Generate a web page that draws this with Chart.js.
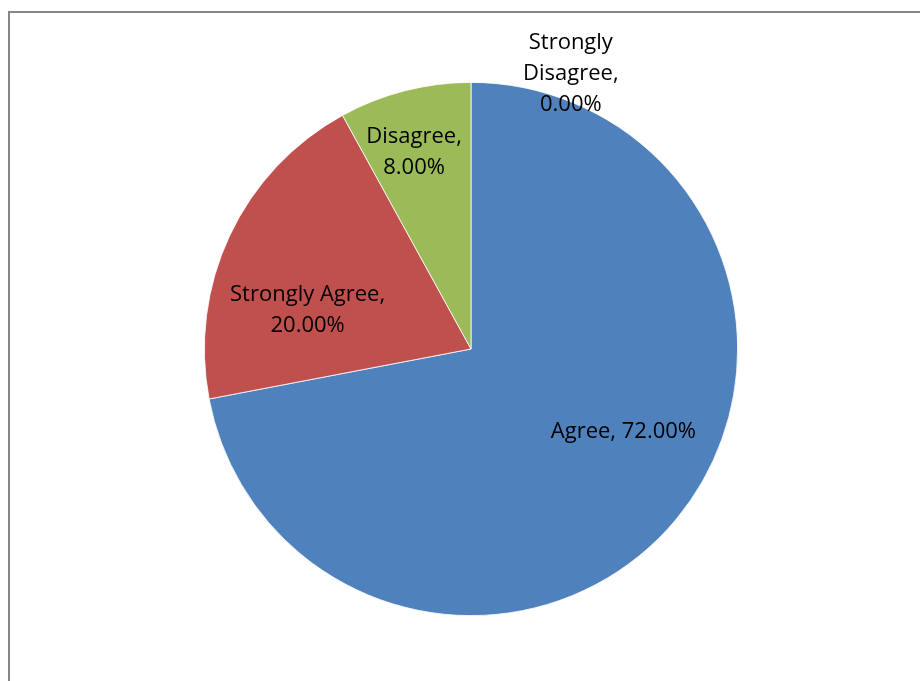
<!DOCTYPE html>
<html>
<head>
<meta charset="utf-8">
<script src="https://cdn.jsdelivr.net/npm/chart.js@4"></script>
<style>
    html, body { margin: 0; padding: 0; background: #fff; overflow: hidden; }
    #wrap { width: 920px; height: 681px; position: relative; }
</style>
</head>
<body>
<div id="wrap"><canvas id="pie" width="920" height="681"></canvas></div>
<script>
// Datos
const categories = ['Agree', 'Strongly Agree', 'Disagree', 'Strongly Disagree'];
const percents = [72, 20, 8, 0];
const sliceColors = ['#4F81BD', '#C0504D', '#9BBB59', '#8064A2'];

// Colocación de etiquetas: [ángulo en grados desde arriba, fracción del radio]
const labelPlacement = [[118.4, 0.65], [283.4, 0.63], [343.9, 0.77], [19.9, 1.10]];
// Cortes de línea como en el original
const labelLines = [
    (c, p) => [c + ', ' + p],
    (c, p) => [c + ',', p],
    (c, p) => [c + ',', p],
    (c, p) => ['Strongly', 'Disagree,', p]
];

const frame = {
    id: 'frame',
    beforeDraw(chart) {
        const ctx = chart.ctx;
        ctx.save();
        ctx.fillStyle = '#fff';
        ctx.fillRect(0, 0, chart.width, chart.height);
        ctx.strokeStyle = '#868686';
        ctx.lineWidth = 2;
        ctx.strokeRect(9, 12, 2000, 2000);
        ctx.restore();
    }
};

const pieLabels = {
    id: 'pieLabels',
    afterDatasetsDraw(chart) {
        const ctx = chart.ctx;
        const meta = chart.getDatasetMeta(0);
        const arc0 = meta.data[0];
        const cx = arc0.x, cy = arc0.y, r = arc0.outerRadius;
        ctx.save();
        ctx.fillStyle = '#000';
        ctx.font = '22px "Open Sans", sans-serif';
        ctx.textAlign = 'center';
        ctx.textBaseline = 'middle';
        const lh = 31;
        categories.forEach((c, i) => {
            const txt = percents[i].toFixed(2) + '%';
            const lines = labelLines[i](c, txt);
            const a = labelPlacement[i][0] * Math.PI / 180;
            const d = labelPlacement[i][1] * r;
            const x = cx + Math.sin(a) * d;
            const y = cy - Math.cos(a) * d;
            const y0 = y - (lines.length - 1) * lh / 2;
            lines.forEach((ln, k) => ctx.fillText(ln, x, y0 + k * lh));
        });
        ctx.restore();
    }
};

new Chart(document.getElementById('pie'), {
    type: 'pie',
    data: {
        labels: categories,
        datasets: [{
            data: percents,
            backgroundColor: sliceColors,
            borderColor: '#ffffff',
            borderWidth: 0.8
        }]
    },
    options: {
        responsive: false,
        animation: false,
        layout: { padding: { top: 82, bottom: 65, left: 204, right: 182 } },
        plugins: {
            legend: { display: false },
            tooltip: { enabled: false }
        }
    },
    plugins: [frame, pieLabels]
});
</script>
</body>
</html>
